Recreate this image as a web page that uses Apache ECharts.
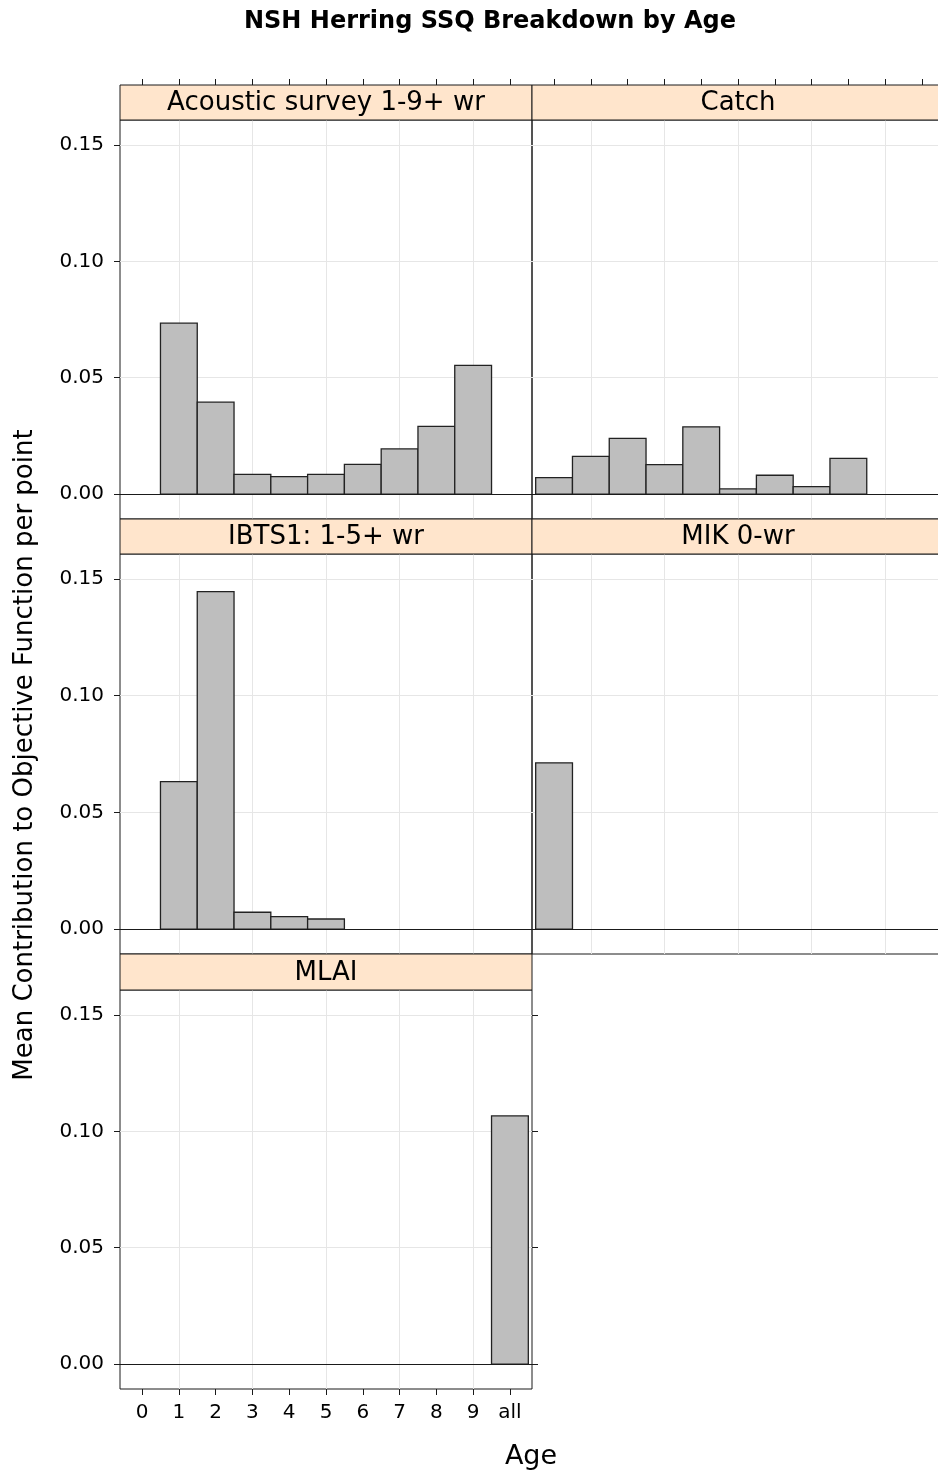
<!DOCTYPE html>
<html>
<head>
<meta charset="utf-8">
<script src="https://cdn.jsdelivr.net/npm/echarts@6/dist/echarts.min.js"></script>
<style>
html,body{margin:0;padding:0;background:#fff;}
#main{width:938px;height:1476px;}
</style>
</head>
<body>
<div id="main"></div>
<script>
// ---- data ----
const ageLabels = ['0','1','2','3','4','5','6','7','8','9','all'];
const panelNames = ['Acoustic survey 1-9+ wr','Catch','IBTS1: 1-5+ wr','MIK 0-wr','MLAI'];
const acousticAges = ['1','2','3','4','5','6','7','8','9'];
const acousticValues = [0.0734,0.0395,0.0085,0.0075,0.0085,0.0128,0.0194,0.0291,0.0553];
const catchAges = ['0','1','2','3','4','5','6','7','8'];
const catchValues = [0.0071,0.0162,0.0239,0.0127,0.0289,0.0022,0.0081,0.0032,0.0153];
const ibtsAges = ['1','2','3','4','5'];
const ibtsValues = [0.0632,0.1446,0.0072,0.0053,0.0043];
const mikAges = ['0'];
const mikValues = [0.0712];
const mlaiAges = ['all'];
const mlaiValues = [0.1066];
const yTickValues = [0, 0.05, 0.10, 0.15];
const gridAges = ['1','3','5','7','9'];
const titleText = 'NSH Herring SSQ Breakdown by Age';
const yTitle = 'Mean Contribution to Objective Function per point';
const xTitle = 'Age';

// ---- layout ----
const FONT = '"DejaVu Sans"';
const X_MIN = -0.6, X_MAX = 10.6, Y_MIN = -0.0107, Y_MAX = 0.1607;
const PANEL_W = 412;
const colLeft = [120, 532];
const stripTop = [85, 519, 954];
const plotTop = [120, 554, 990];
const plotH = [399, 400, 399];
const LINE = '#1a1a1a';

const panels = [
  {name: panelNames[0], ages: acousticAges, values: acousticValues},
  {name: panelNames[1], ages: catchAges, values: catchValues},
  {name: panelNames[2], ages: ibtsAges, values: ibtsValues},
  {name: panelNames[3], ages: mikAges, values: mikValues},
  {name: panelNames[4], ages: mlaiAges, values: mlaiValues}
];
const xIdx = ageLabels.map((_, i) => i);

function renderBar(params, api) {
  const x = api.value(0), y = api.value(1);
  const p0 = api.coord([x - 0.5, 0]);
  const p1 = api.coord([x + 0.5, y]);
  return {
    type: 'rect',
    shape: {x: p0[0], y: p1[1], width: p1[0] - p0[0], height: p0[1] - p1[1]},
    style: {fill: '#bebebe', stroke: '#222', lineWidth: 1.3}
  };
}

const grids = [], xAxes = [], yAxes = [], series = [], graphics = [];
panels.forEach((p, i) => {
  const row = Math.floor(i / 2), col = i % 2;
  const left = colLeft[col];
  const isBottom = (i === 4), isLeft = (col === 0), isTop = (row === 0);
  grids.push({left: left, top: plotTop[row], width: PANEL_W, height: plotH[row],
    show: true, borderColor: LINE, borderWidth: 1, backgroundColor: 'transparent',
    containLabel: false, outerBoundsMode: 'none', z: 0});
  const xi = xAxes.length;
  xAxes.push({type: 'value', gridIndex: i, position: 'bottom', min: X_MIN, max: X_MAX,
    axisLine: {show: false, onZero: false},
    axisTick: {show: isBottom, customValues: xIdx, length: 6, lineStyle: {color: LINE}},
    axisLabel: {show: isBottom, customValues: xIdx, margin: 14, color: '#000', fontSize: 20, fontFamily: FONT,
      formatter: v => { const k = Math.round(v); return ageLabels[k] !== undefined ? ageLabels[k] : ''; }},
    splitLine: {show: false}});
  if (isTop) {
    xAxes.push({type: 'value', gridIndex: i, position: 'top', offset: plotTop[row] - stripTop[row], min: X_MIN, max: X_MAX,
      axisLine: {show: false, onZero: false},
      axisTick: {show: true, customValues: xIdx, length: 6, lineStyle: {color: LINE}},
      axisLabel: {show: false}, splitLine: {show: false}});
  }
  const yi = yAxes.length;
  yAxes.push({type: 'value', gridIndex: i, position: 'left', min: Y_MIN, max: Y_MAX,
    axisLine: {show: false, onZero: false},
    axisTick: {show: isLeft, customValues: yTickValues, length: 6, lineStyle: {color: LINE}},
    axisLabel: {show: isLeft, customValues: yTickValues, margin: 16, color: '#000', fontSize: 20, fontFamily: FONT,
      formatter: v => v.toFixed(2)},
    splitLine: {show: false}});
  if (isBottom) {
    yAxes.push({type: 'value', gridIndex: i, position: 'right', min: Y_MIN, max: Y_MAX,
      axisLine: {show: false, onZero: false},
      axisTick: {show: true, customValues: yTickValues, length: 6, lineStyle: {color: LINE}},
      axisLabel: {show: false}, splitLine: {show: false}});
  }
  // reference grid lines (behind bars)
  series.push({type: 'line', xAxisIndex: xi, yAxisIndex: yi, data: [], z: 1, silent: true,
    markLine: {silent: true, z: 1, symbol: ['none', 'none'], label: {show: false}, animation: false,
      lineStyle: {color: '#e6e6e6', width: 1, type: 'solid'},
      emphasis: {disabled: true},
      data: gridAges.map(a => ({xAxis: ageLabels.indexOf(a)}))
        .concat(yTickValues.filter(v => v !== 0).map(v => ({yAxis: v})))}});
  // bars
  series.push({type: 'custom', name: p.name, xAxisIndex: xi, yAxisIndex: yi, z: 3, silent: true,
    renderItem: renderBar,
    data: p.ages.map((a, k) => [ageLabels.indexOf(a), p.values[k]]),
    markLine: {silent: true, z: 4, symbol: ['none', 'none'], label: {show: false}, animation: false,
      lineStyle: {color: LINE, width: 1, type: 'solid'}, emphasis: {disabled: true},
      data: [{yAxis: 0}]}});
  // strip
  graphics.push({type: 'rect', z: 10,
    shape: {x: left, y: stripTop[row], width: PANEL_W, height: plotTop[row] - stripTop[row]},
    style: {fill: '#ffe5cc', stroke: LINE, lineWidth: 1}});
  graphics.push({type: 'text', z: 11, x: left + PANEL_W / 2, y: (stripTop[row] + plotTop[row]) / 2 + 1,
    style: {text: p.name, font: '26px ' + FONT, fill: '#000', textAlign: 'center', textVerticalAlign: 'middle',
      align: 'center', verticalAlign: 'middle'}});
});

graphics.push({type: 'text', x: 490, y: 22,
  style: {text: titleText, font: 'bold 24px ' + FONT, fill: '#000', textAlign: 'center', textVerticalAlign: 'middle',
    align: 'center', verticalAlign: 'middle'}});
graphics.push({type: 'text', x: 25, y: 755, rotation: Math.PI / 2,
  style: {text: yTitle, font: '26px ' + FONT, fill: '#000', textAlign: 'center', textVerticalAlign: 'middle',
    align: 'center', verticalAlign: 'middle'}});
graphics.push({type: 'text', x: 531, y: 1457,
  style: {text: xTitle, font: '27px ' + FONT, fill: '#000', textAlign: 'center', textVerticalAlign: 'middle',
    align: 'center', verticalAlign: 'middle'}});

const chart = echarts.init(document.getElementById('main'), null, {renderer: 'canvas'});
chart.setOption({
  animation: false,
  backgroundColor: '#fff',
  grid: grids,
  xAxis: xAxes,
  yAxis: yAxes,
  series: series,
  graphic: graphics
});
</script>
</body>
</html>
